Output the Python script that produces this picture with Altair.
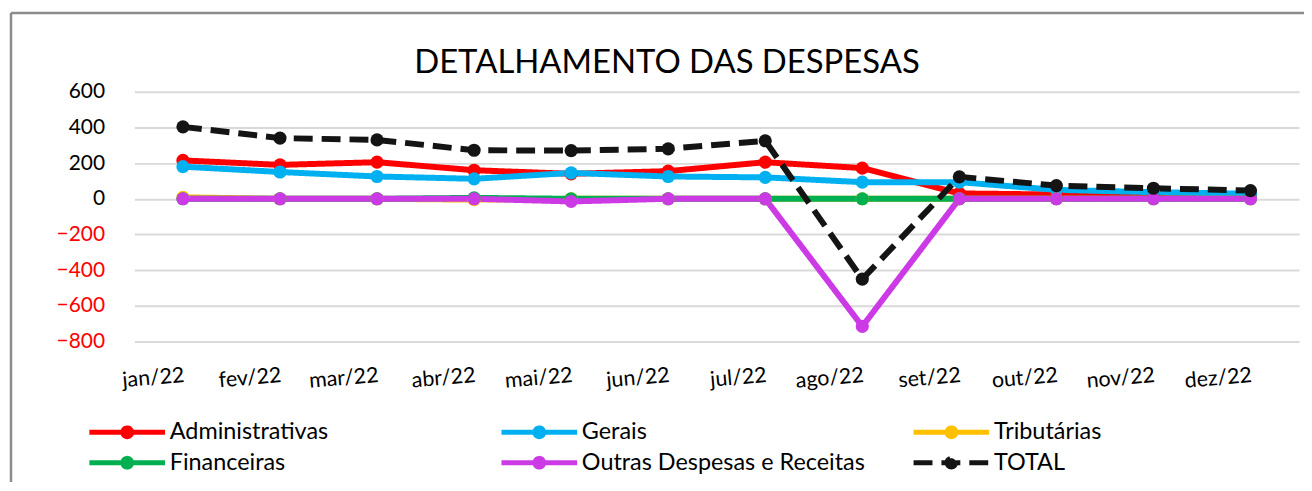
import altair as alt
import pandas as pd

months = ["jan/22", "fev/22", "mar/22", "abr/22", "mai/22", "jun/22",
          "jul/22", "ago/22", "set/22", "out/22", "nov/22", "dez/22"]
series_names = ["Administrativas", "Gerais", "Tributárias", "Financeiras",
                "Outras Despesas e Receitas", "TOTAL"]
series_colors = ["#FF0000", "#00B0F0", "#FFC000", "#00B050", "#CC3AE6", "#141414"]
series_dashes = [[1, 0], [1, 0], [1, 0], [1, 0], [1, 0], [19, 9]]

administrativas = [215, 190, 205, 160, 140, 155, 205, 172, 30, 24, 22, 18]
gerais = [180, 150, 125, 112, 145, 125, 120, 93, 93, 50, 37, 28]
tributarias = [8, 0, 0, -5, 0, 0, 0, 0, 0, 0, 0, 0]
financeiras = [0, 0, 0, 5, 0, 0, 0, 0, 0, 0, 0, 0]
outras = [0, 0, 0, 0, -15, 0, 0, -715, 0, 0, 0, 0]
total = [403, 340, 330, 272, 270, 280, 325, -450, 123, 74, 59, 46]

y_ticks = [-800, -600, -400, -200, 0, 200, 400, 600]

rows = []
for name, vals in zip(series_names, [administrativas, gerais, tributarias,
                                     financeiras, outras, total]):
    for m, v in zip(months, vals):
        rows.append({"mes": m, "serie": name, "valor": v})
df = pd.DataFrame(rows)

FONT = "Lato"

# legend symbol: line with a dot (stroke only; two concentric rings form the dot)
symbol_path = ("M-4.75,0H4.75 "
               "M0.55,0A0.55,0.55,0,1,1,-0.55,0A0.55,0.55,0,1,1,0.55,0 "
               "M0.2,0A0.2,0.2,0,1,1,-0.2,0A0.2,0.2,0,1,1,0.2,0")

legend = alt.Legend(
    title=None, orient="none", legendX=-19, legendY=330, columns=3,
    direction="horizontal", gridAlign="all", columnPadding=38, rowPadding=1,
    labelFont=FONT, labelFontSize=23.5, labelColor="#000000", labelLimit=500,
    labelOffset=31, symbolSize=256, symbolType=symbol_path,
    symbolStrokeWidth=5, symbolOpacity=1, padding=0,
)

color = alt.Color("serie:N", sort=series_names,
                  scale=alt.Scale(domain=series_names, range=series_colors),
                  legend=legend)
dash = alt.StrokeDash("serie:N", sort=series_names,
                      scale=alt.Scale(domain=series_names, range=series_dashes),
                      legend=legend)

x = alt.X("mes:N", sort=months,
          scale=alt.Scale(type="point", padding=0.5),
          axis=alt.Axis(title=None, labelAngle=355, labelAlign="right",
                        labelBaseline="top", labelPadding=23, labelFont=FONT,
                        labelFontSize=21.5, labelColor="#000000", ticks=False,
                        domain=False, grid=False))
y = alt.Y("valor:Q",
          scale=alt.Scale(domain=[-800, 600], nice=False, zero=False),
          axis=alt.Axis(title=None, values=y_ticks, grid=True,
                        gridColor="#D9D9D9", gridWidth=2, domain=False,
                        ticks=False, labelPadding=30, labelFont=FONT,
                        labelFontSize=21,
                        labelColor=alt.condition("datum.value < 0",
                                                 alt.value("#FF0000"),
                                                 alt.value("#000000"))))

base = alt.Chart(df).encode(x=x, y=y, color=color)

lines = base.mark_line(strokeWidth=6).encode(strokeDash=dash)
points = base.mark_point(filled=True, size=175, opacity=1, shape="circle")

frame_data = alt.Data(values=[{"k": 1}])
frame_left = alt.Chart(frame_data).mark_rule(color="#8C8C8C", strokeWidth=2.5).encode(
    x=alt.value(-124), y=alt.value(-79), y2=alt.value(420))
frame_top = alt.Chart(frame_data).mark_rule(color="#8C8C8C", strokeWidth=2.5).encode(
    x=alt.value(-124), x2=alt.value(1180), y=alt.value(-79))

chart = alt.layer(lines, points, frame_left, frame_top).properties(
    width=1170, height=251,
    title=alt.Title("DETALHAMENTO DAS DESPESAS", font=FONT, fontSize=33,
                    fontWeight="normal", color="#000000", anchor="middle",
                    frame="group", dx=-50, offset=-68),
    autosize=alt.AutoSizeParams(type="none"),
    padding={"left": 127, "top": 83, "right": 5, "bottom": 140},
).configure_view(stroke=None)

chart.save("out.html", embed_options={"renderer": "svg", "actions": False})
